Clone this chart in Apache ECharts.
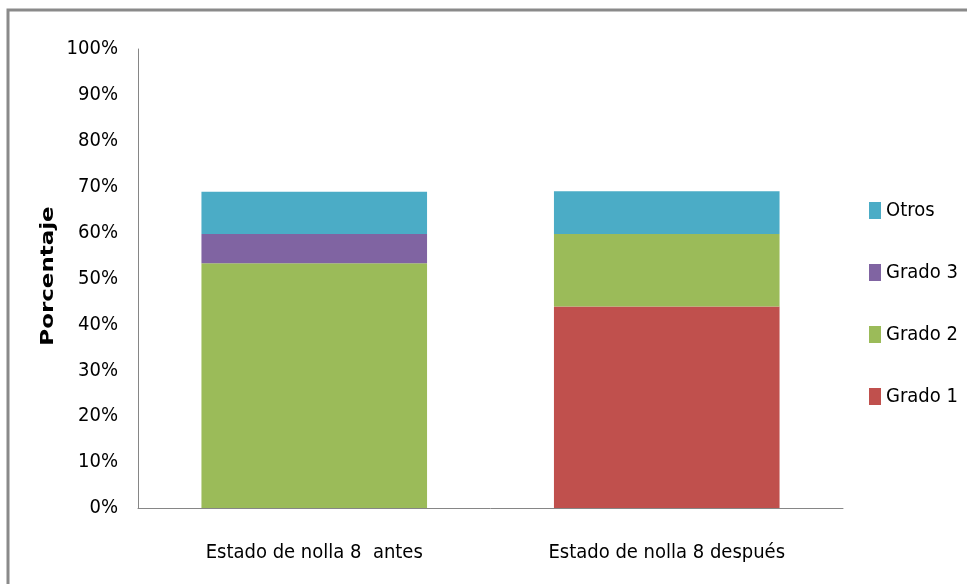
<!DOCTYPE html>
<html>
<head>
<meta charset="utf-8">
<script src="https://cdn.jsdelivr.net/npm/echarts@6/dist/echarts.min.js"></script>
<style>
html,body{margin:0;padding:0;background:#fff;}
#chart{width:967px;height:584px;}
</style>
</head>
<body>
<div id="chart"></div>
<script>
var categories = ['Estado de nolla 8  antes', 'Estado de nolla 8 después'];
var grado1 = [0, 43.9];
var grado2 = [53.3, 15.8];
var grado3 = [6.4, 0];
var otros = [9.2, 9.3];
var legendOrder = ['Otros', 'Grado 3', 'Grado 2', 'Grado 1'];
var yTitle = 'Porcentaje';

var narrow = '"DejaVu Sans Condensed", "Liberation Sans Narrow", sans-serif';
var chart = echarts.init(document.getElementById('chart'), null, {renderer: 'canvas'});

function bar(name, data, color) {
  return {
    name: name, type: 'bar', stack: 'total', data: data,
    barWidth: '64%',
    itemStyle: {color: color},
    emphasis: {disabled: true}
  };
}

chart.setOption({
  animation: false,
  backgroundColor: '#ffffff',
  grid: {left: 138, right: 124, top: 49, bottom: 76, containLabel: false},
  legend: {
    orient: 'vertical',
    left: 864, top: 195,
    itemWidth: 12, itemHeight: 17,
    itemGap: 41,
    data: legendOrder,
    icon: 'rect',
    textStyle: {fontFamily: narrow, fontSize: 20, color: '#000', lineHeight: 21}
  },
  xAxis: {
    type: 'category',
    data: categories,
    axisLine: {lineStyle: {color: '#868686', width: 1}},
    axisTick: {show: false},
    axisLabel: {interval: 0, fontFamily: narrow, fontSize: 20, color: '#000', margin: 35}
  },
  yAxis: {
    type: 'value',
    min: 0, max: 100, interval: 10,
    axisLine: {show: true, lineStyle: {color: '#868686', width: 1}},
    axisTick: {show: false},
    splitLine: {show: false},
    axisLabel: {formatter: '{value}%', fontFamily: narrow, fontSize: 20, color: '#000', margin: 20}
  },
  graphic: [
    {type: 'rect', shape: {x: 8, y: 10, width: 1100, height: 700}, style: {fill: 'none', stroke: '#8a8a8a', lineWidth: 3}, silent: true},
    {type: 'text', x: 49, y: 276, rotation: Math.PI / 2, scaleX: 1.35,
     style: {text: yTitle, fontFamily: '"DejaVu Sans", sans-serif', fontWeight: 'bold', fontSize: 17, fill: '#000', align: 'center', verticalAlign: 'middle'}}
  ],
  series: [
    bar('Grado 1', grado1, '#C0504D'),
    bar('Grado 2', grado2, '#9BBB59'),
    bar('Grado 3', grado3, '#8064A2'),
    bar('Otros', otros, '#4BACC6')
  ]
});
</script>
</body>
</html>
